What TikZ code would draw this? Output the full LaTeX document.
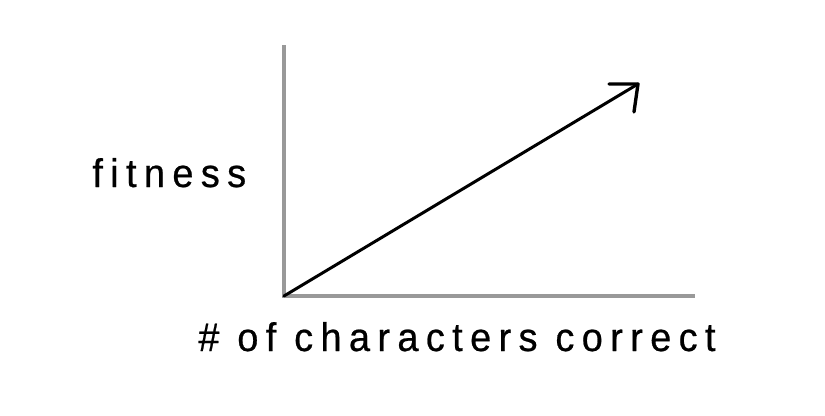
\documentclass[tikz,border=0pt]{standalone}
\usepackage{fontspec}
\usepackage{tikz}
\usetikzlibrary{positioning}
\newfontfamily\labelfont[LetterSpace=18.5, FakeStretch=0.95, FakeBold=0.6]{Liberation Sans}
\tikzset{axis/.style = {draw=mgray, line width = 2pt}}
\tikzset{lbl/.style = {font = \labelfont\fontsize{22.7}{27}\selectfont, inner sep = 0}}
\definecolor{mgray}{rgb}{0.6, 0.6, 0.6}

\begin{document}
\begin{tikzpicture}
      \useasboundingbox (0, 0) rectangle (16.5, 8.3);

      \coordinate (origin) at (5.68, 2.38);
      \coordinate (ytop) at (5.68, 7.4);
      \coordinate (xend) at (13.9, 2.38);
      \coordinate (tip) at (12.76, 6.62);

      \draw [axis] (ytop) -- (origin) -- (xend);

      \draw [line width = 1.7pt, line cap = round] (origin) -- (tip);
      \draw [line width = 1.9pt, line cap = round, line join = round] (tip) ++(-0.58, 0) -- (tip) -- ++(-0.08, -0.56);

      \node [lbl, anchor = base west] (fit) at (1.84, 4.56) {fitness};
      \node [lbl, anchor = base west] (chars) at (3.96, 1.28) {\# of characters correct};
    \end{tikzpicture}
\end{document}
